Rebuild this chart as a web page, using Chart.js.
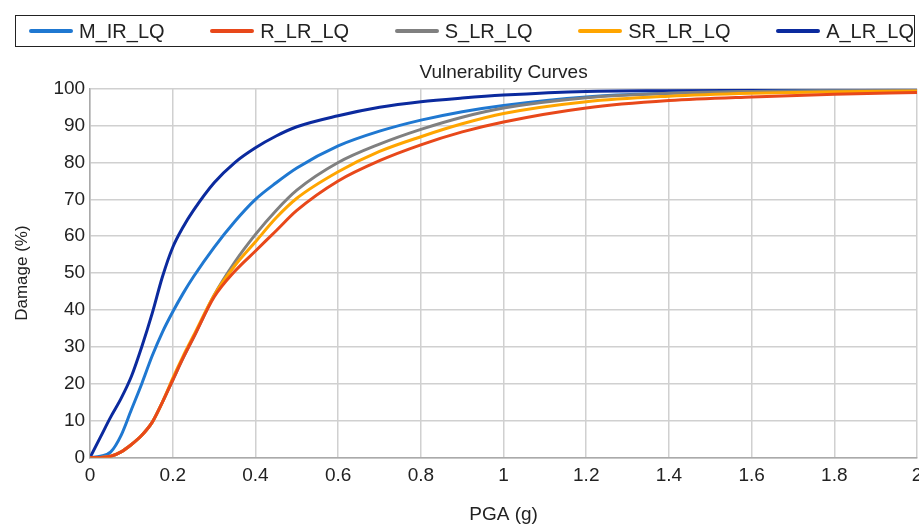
<!DOCTYPE html>
<html>
<head>
  <meta charset="UTF-8">
  <script src="https://cdn.jsdelivr.net/npm/chart.js@4.4.0/dist/chart.umd.min.js"></script>
  <style>
    body { margin: 0; background: #fff; }
    .wrap { position: relative; width: 919px; height: 526px; overflow: hidden; }
    #legend {
      position: absolute; left: 15px; top: 15px; width: 885px; height: 30px;
      border: 1.5px solid #222; display: flex; align-items: center; justify-content: space-between;
      padding-left: 13px; padding-right: 0; box-sizing: content-box;
      font-family: "Liberation Sans", Arial, sans-serif; font-size: 20px; color: #222;
    }
    #legend .item { display: flex; align-items: center; white-space: nowrap; }
    #legend .line { display: inline-block; width: 44px; height: 4px; border-radius: 2px; margin-right: 6px; }
  </style>
</head>
<body>
<div class="wrap">
  <canvas id="myChart"></canvas>
  <div id="legend"></div>
</div>
<script>
  // PGA (g) sample points
  const pga = [0, 0.025, 0.05, 0.075, 0.1, 0.125, 0.15, 0.175, 0.2, 0.225, 0.25, 0.3, 0.35, 0.4, 0.45, 0.5, 0.6, 0.7, 0.8, 0.9, 1.0, 1.2, 1.4, 1.6, 1.8, 2.0];

  // Damage (%) per curve
  const mIrLq  = [0, 0.3, 1.5, 6, 13, 20, 27.5, 34, 39.5, 44.5, 49, 57, 64, 70, 74.5, 78.5, 84.5, 88.5, 91.5, 93.8, 95.5, 97.8, 98.8, 99.3, 99.5, 99.6];
  const rLrLq  = [0, 0, 0.3, 1.5, 3.5, 6, 9.5, 15, 21, 27, 32.5, 43.5, 50.5, 56, 61.5, 67, 75, 80.5, 84.8, 88.3, 91, 94.8, 96.8, 97.8, 98.5, 99];
  const sLrLq  = [0, 0, 0.3, 1.5, 3.5, 6, 9.5, 15, 21, 27, 32.5, 44, 53, 60.5, 67, 72.5, 80, 85, 89, 92.3, 94.8, 97.6, 98.8, 99.3, 99.5, 99.6];
  const srLrLq = [0, 0, 0.3, 1.5, 3.5, 6, 9.5, 15, 21.5, 27.5, 33, 44, 52, 58.5, 65, 70.3, 77.5, 83, 87, 90.5, 93.3, 96.5, 98, 98.8, 99.2, 99.4];
  const aLrLq  = [0, 5.5, 11, 16, 22, 30, 39, 49, 57, 62.5, 67, 74.5, 80, 84, 87.2, 89.7, 92.7, 95, 96.5, 97.5, 98.3, 99.3, 99.5, 99.6, 99.7, 99.7];

  const names = ['M_IR_LQ', 'R_LR_LQ', 'S_LR_LQ', 'SR_LR_LQ', 'A_LR_LQ'];
  const colors = ['#1f78d1', '#e8481a', '#808080', '#ffa500', '#0b2a9e'];
  const series = [mIrLq, rLrLq, sLrLq, srLrLq, aLrLq];

  const xTicks = [0, 0.2, 0.4, 0.6, 0.8, 1, 1.2, 1.4, 1.6, 1.8, 2];

  const tickFont = { family: '"Liberation Sans", Arial, sans-serif', size: 19 };

  // draw order: red, orange, gray underneath, blues on top
  const order = [1, 3, 2, 0, 4];
  const datasets = order.map(function(i) {
    return {
      label: names[i],
      data: pga.map(function(x, k) { return { x: x, y: series[i][k] }; }),
      borderColor: colors[i],
      backgroundColor: colors[i],
      borderWidth: 3,
      pointRadius: 0,
      fill: false,
      cubicInterpolationMode: 'monotone'
    };
  });

  // html legend
  let html = '';
  names.forEach(function(n, i) {
    html += "<span class='item'><span class='line' style='background:" + colors[i] + "'></span>" + n + "</span>";
  });
  document.getElementById('legend').innerHTML = html;

  const ctx = document.getElementById('myChart').getContext('2d');
  const chart = new Chart(ctx, {
    type: 'line',
    data: { datasets: datasets },
    options: {
      responsive: true,
      maintainAspectRatio: false,
      animation: false,
      layout: { padding: { top: 51, left: 12, right: 2, bottom: 0 } },
      plugins: {
        legend: { display: false },
        title: { display: false },
        tooltip: { enabled: false }
      },
      scales: {
        x: {
          type: 'linear',
          min: 0,
          max: 2,
          afterBuildTicks: function(axis) { axis.ticks = xTicks.map(function(v) { return { value: v }; }); },
          // let the last label run off the edge like the original
          afterFit: function(axis) { axis.paddingRight = 0; },
          ticks: { font: tickFont, color: '#222', padding: 7, maxRotation: 0,
            callback: function(v) { return String(Math.round(v * 10) / 10); } },
          grid: { color: '#d0d0d0', lineWidth: 1.5, drawTicks: false },
          border: { color: '#aaa', width: 1.5 },
          title: { display: true, text: 'PGA (g)', font: tickFont, color: '#222', padding: { top: 9, bottom: 0 } }
        },
        x2: {
          type: 'linear',
          position: 'top',
          min: 0,
          max: 2,
          ticks: { display: false },
          grid: { display: false, drawTicks: false },
          border: { display: false },
          title: { display: true, text: 'Vulnerability Curves', font: tickFont, color: '#222', padding: { top: 10, bottom: 5 } }
        },
        y: {
          min: 0,
          max: 100,
          ticks: { stepSize: 10, font: tickFont, color: '#222', padding: 5 },
          grid: { color: '#d0d0d0', lineWidth: 1.5, drawTicks: false },
          border: { color: '#aaa', width: 1.5 },
          title: { display: true, text: 'Damage (%)', font: { family: '"Liberation Sans", Arial, sans-serif', size: 17 }, color: '#222', padding: { top: 0, bottom: 16 } }
        }
      }
    }
  });
</script>
</body>
</html>
